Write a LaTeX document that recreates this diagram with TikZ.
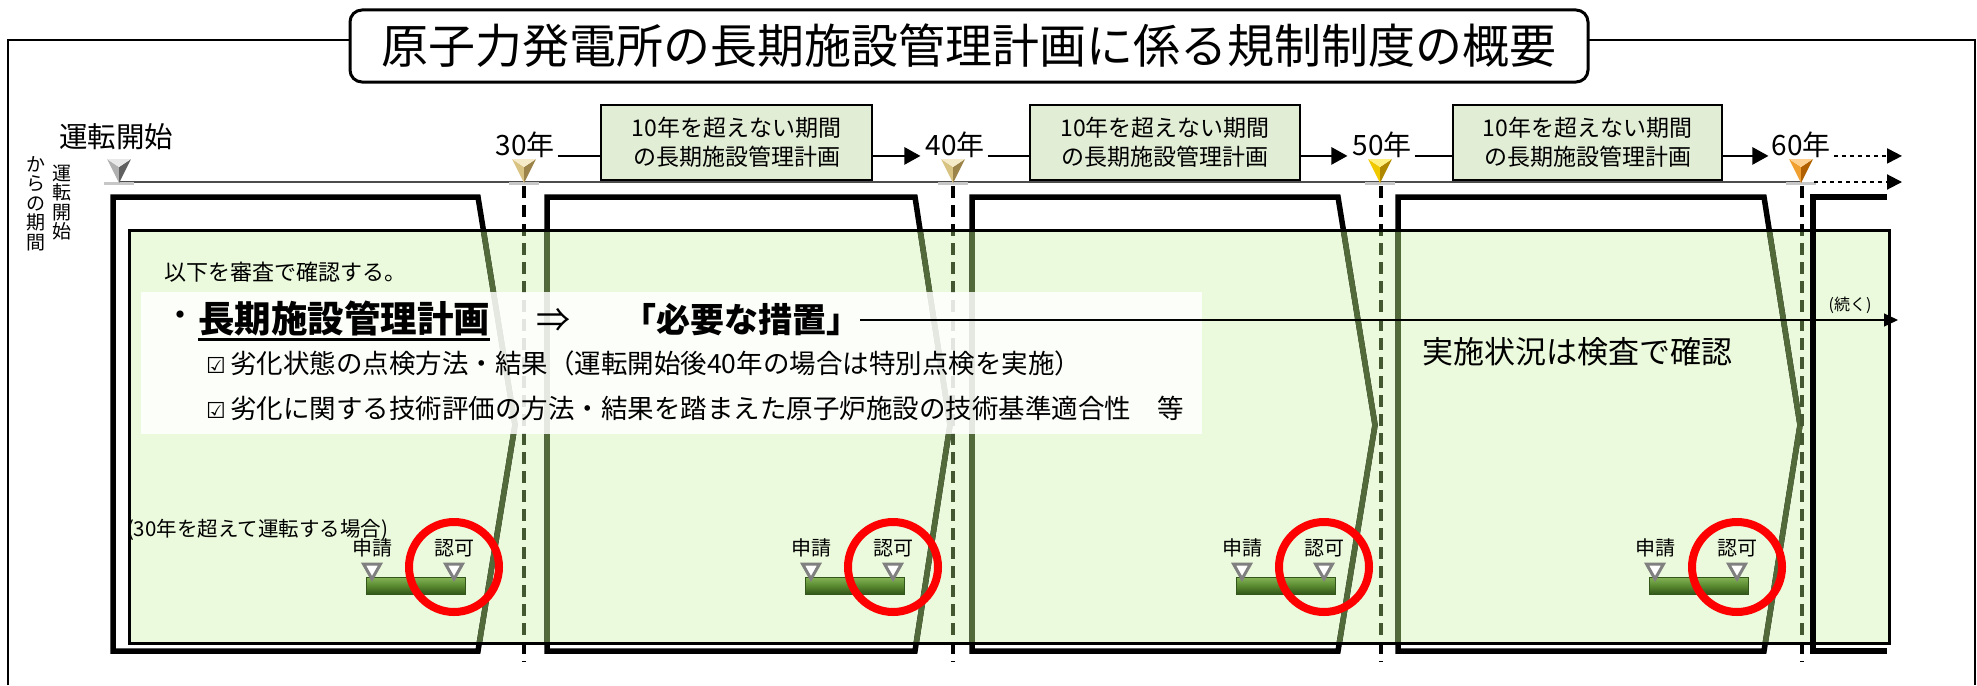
\documentclass[tikz,border=0pt]{standalone}
\usepackage{fontspec}
\setmainfont{Noto Sans CJK JP}
\newfontfamily\dvfont{DejaVu Sans}
\usetikzlibrary{arrows.meta}
\definecolor{planfill}{HTML}{E2EDD6}
\definecolor{bgfill}{HTML}{EBFADC}
\definecolor{linegreen}{HTML}{526A3A}
\definecolor{dashgreen}{HTML}{435730}
\definecolor{barlight}{HTML}{86B558}
\definecolor{barmid}{HTML}{5A8A30}
\definecolor{bardark}{HTML}{33561A}
\definecolor{tanT}{HTML}{F5EBC8}
\definecolor{tanL}{HTML}{D9C383}
\definecolor{tanD}{HTML}{9C834A}
\definecolor{grayT}{HTML}{E8E8E8}
\definecolor{grayL}{HTML}{B0B0B0}
\definecolor{grayD}{HTML}{606060}
\definecolor{goldT}{HTML}{FFF080}
\definecolor{goldL}{HTML}{F0C800}
\definecolor{goldD}{HTML}{B08800}
\definecolor{orgT}{HTML}{FFD090}
\definecolor{orgL}{HTML}{F0A030}
\definecolor{orgD}{HTML}{B06000}
\newcommand\myYearTri[4]{%
  \draw[black!22, line width=3pt] ({#1-15},183.5) -- ({#1+15},183.5);
  \fill[#3] ({#1-12},159) -- (#1,167) -- (#1,183) -- cycle;
  \fill[#4] ({#1+12},159) -- (#1,167) -- (#1,183) -- cycle;
  \fill[#2] ({#1-12},159) -- ({#1+12},159) -- (#1,167) -- cycle;
}
\newcommand\myAppBar[2]{%
  \shade[top color=barlight, bottom color=bardark, middle color=barmid] (#1,577) rectangle ({#1+99},594);
  \draw[bardark, line width=1pt] (#1,577) rectangle ({#1+99},594);
  \draw[apptri] ({#1-2.5},564) -- ({#1+14.5},564) -- ({#1+6},579) -- cycle;
  \draw[apptri] ({#1+79.5},564) -- ({#1+96.5},564) -- ({#1+88},579) -- cycle;
  \node[smalllbl] (#2a) at ({#1+6},548) {申請};
  \node[smalllbl] (#2b) at ({#1+88},548) {認可};
  \draw[red, line width=8pt] ({#1+88},567) circle[radius=45];
}
\begin{document}
\begin{tikzpicture}[x=1pt,y=-1pt,
  every node/.style={inner sep=0pt, outer sep=0pt},
  yrlbl/.style={font=\fontsize{28}{30}\selectfont},
  planbox/.style={draw, line width=2.5pt, fill=planfill, minimum width=271pt, minimum height=75pt, align=center, font=\fontsize{23}{29}\selectfont},
  conn/.style={line width=2.5pt},
  connarr/.style={line width=2.5pt, -{Triangle[length=16pt,width=17pt]}},
  dotarr/.style={line width=2pt, dash pattern=on 4pt off 4pt, -{Triangle[length=15pt,width=15pt]}},
  secline/.style={line width=5.5pt, line join=miter},
  dashln/.style={line width=3.5pt, dash pattern=on 12pt off 7pt},
  apptri/.style={draw=black!50, fill=white, line width=3pt, line join=miter},
  smalllbl/.style={font=\fontsize{20}{22}\selectfont},
  vtext/.style={font=\fontsize{19}{19.5}\selectfont, align=center, anchor=north}
]
\useasboundingbox (0,0) rectangle (1977,685);
% outer frame
\draw[line width=2.5pt] (8,685) -- (8,40) -- (350,40);
\draw[line width=2.5pt] (1588,40) -- (1975,40) -- (1975,685);
\node[draw, line width=3pt, rounded corners=12pt, fill=white, minimum width=1238pt, minimum height=72pt, font=\fontsize{47}{50}\selectfont] (title) at (969,46) {原子力発電所の長期施設管理計画に係る規制制度の概要};

% vertical label
\node[vtext] (vt1) at (36,156) {か\\ら\\の\\期\\間};
\node[vtext] (vt2) at (62,165) {運\\転\\開\\始};

% green background box
\fill[bgfill] (129,230) rectangle (1889,643);
% section outlines
\foreach \L/\R/\K in {113/478/515, 547/915/950, 972/1338/1375, 1398/1764/1800}
  \draw[secline] (\L,197) -- (\R,197) -- (\K,425) -- (\R,651) -- (\L,651) -- cycle;
\foreach \x in {524,953,1381,1802}
  \draw[dashln] (\x,186) -- (\x,662);
\begin{scope}
  \clip (129,230) rectangle (1889,643);
  \foreach \L/\R/\K in {113/478/515, 547/915/950, 972/1338/1375, 1398/1764/1800}
    \draw[secline, linegreen] (\L,197) -- (\R,197) -- (\K,425) -- (\R,651) -- (\L,651) -- cycle;
  \foreach \x in {524,953,1381,1802}
    \draw[dashln, dashgreen] (\x,186) -- (\x,662);
\end{scope}
\draw[line width=3pt] (129,230) rectangle (1889,643);
\draw[secline] (1887,197) -- (1813,197) -- (1813,651) -- (1887,651);

% timeline
\draw[black!70, line width=1.5pt] (119,182) -- (1801,182);
\myYearTri{119}{grayT}{grayL}{grayD}
\myYearTri{524}{tanT}{tanL}{tanD}
\myYearTri{953}{tanT}{tanL}{tanD}
\myYearTri{1380}{goldT}{goldL}{goldD}
\myYearTri{1801}{orgT}{orgL}{orgD}

\node[font=\fontsize{28.5}{30}\selectfont] (start) at (116,137) {運転開始};
\node[yrlbl] (y30) at (525,145) {30年};
\node[yrlbl] (y40) at (955,145) {40年};
\node[yrlbl] (y50) at (1382,145) {50年};
\node[yrlbl] (y60) at (1801,145) {60年};

\node[planbox] (b1) at (736.5,142.5) {10年を超えない期間\\の長期施設管理計画};
\node[planbox, minimum width=270pt] (b2) at (1165,142.5) {10年を超えない期間\\の長期施設管理計画};
\node[planbox, minimum width=269pt] (b3) at (1587.5,142.5) {10年を超えない期間\\の長期施設管理計画};

\coordinate (c30) at ([xshift=3pt,yshift=2pt]y30.south east);
\coordinate (c40) at ([xshift=3pt,yshift=2pt]y40.south east);
\coordinate (c50) at ([xshift=3pt,yshift=2pt]y50.south east);
\coordinate (a40) at ([xshift=-5pt,yshift=2pt]y40.south west);
\coordinate (a50) at ([xshift=-5pt,yshift=2pt]y50.south west);
\coordinate (a60) at ([xshift=-3pt,yshift=2pt]y60.south west);
\draw[conn] (c30) -- (c30 -| b1.west);
\draw[conn] (c40) -- (c40 -| b2.west);
\draw[conn] (c50) -- (c50 -| b3.west);
\draw[connarr] (a40 -| b1.east) -- (a40);
\draw[connarr] (a50 -| b2.east) -- (a50);
\draw[connarr] (a60 -| b3.east) -- (a60);
\coordinate (d60) at ([xshift=3pt,yshift=2pt]y60.south east);
\coordinate (d60end) at (1902,155);
\draw[dotarr] (d60) -- (d60 -| d60end);
\coordinate (tl60) at (1814,182);
\coordinate (tlend) at (1902,182);
\draw[dotarr] (tl60) -- (tlend);

% review text
\node[anchor=west, font=\fontsize{22}{24}\selectfont] (intro) at (164,272) {以下を審査で確認する。};
\fill[white, opacity=.85] (141,292) rectangle (1202,434);
\node[anchor=west, font=\fontsize{34}{38}\selectfont] (dot) at (163,319) {・};
\node[anchor=west, font=\fontsize{36.5}{38}\selectfont\bfseries] (h1) at (198,318) {長期施設管理計画};
\draw[line width=2.5pt] ([yshift=-4pt]h1.south west) -- ([yshift=-4pt]h1.south east);
\node[font=\fontsize{34}{36}\selectfont] (impl) at (553,320) {⇒};
\node[anchor=west, font=\fontsize{34}{36}\selectfont\bfseries] (need) at (622,320) {「必要な措置」};
\coordinate (contEnd) at (1898,320);
\draw[line width=1.3pt, -{Triangle[length=14pt,width=13pt]}] (need.east) -- (contEnd);
\node[font=\fontsize{16}{18}\selectfont] (cont) at (1850,305) {(続く)};
\node[anchor=west, font=\fontsize{26.5}{28}\selectfont] (chk1) at (206,363) {{\dvfont\fontsize{22}{22}\selectfont ☑}\,劣化状態の点検方法・結果（運転開始後40年の場合は特別点検を実施）};
\node[anchor=west, font=\fontsize{26.5}{28}\selectfont] (chk2) at (206,408) {{\dvfont\fontsize{22}{22}\selectfont ☑}\,劣化に関する技術評価の方法・結果を踏まえた原子炉施設の技術基準適合性　等};
\node[anchor=west, font=\fontsize{31}{34}\selectfont] (insp) at (1422,352) {実施状況は検査で確認};
\node[anchor=west, font=\fontsize{20.5}{22}\selectfont] (over30) at (127,530) {(30年を超えて運転する場合)};

% application bars
\myAppBar{366}{p1}
\myAppBar{805}{p2}
\myAppBar{1236}{p3}
\myAppBar{1649}{p4}
\end{tikzpicture}
\end{document}
